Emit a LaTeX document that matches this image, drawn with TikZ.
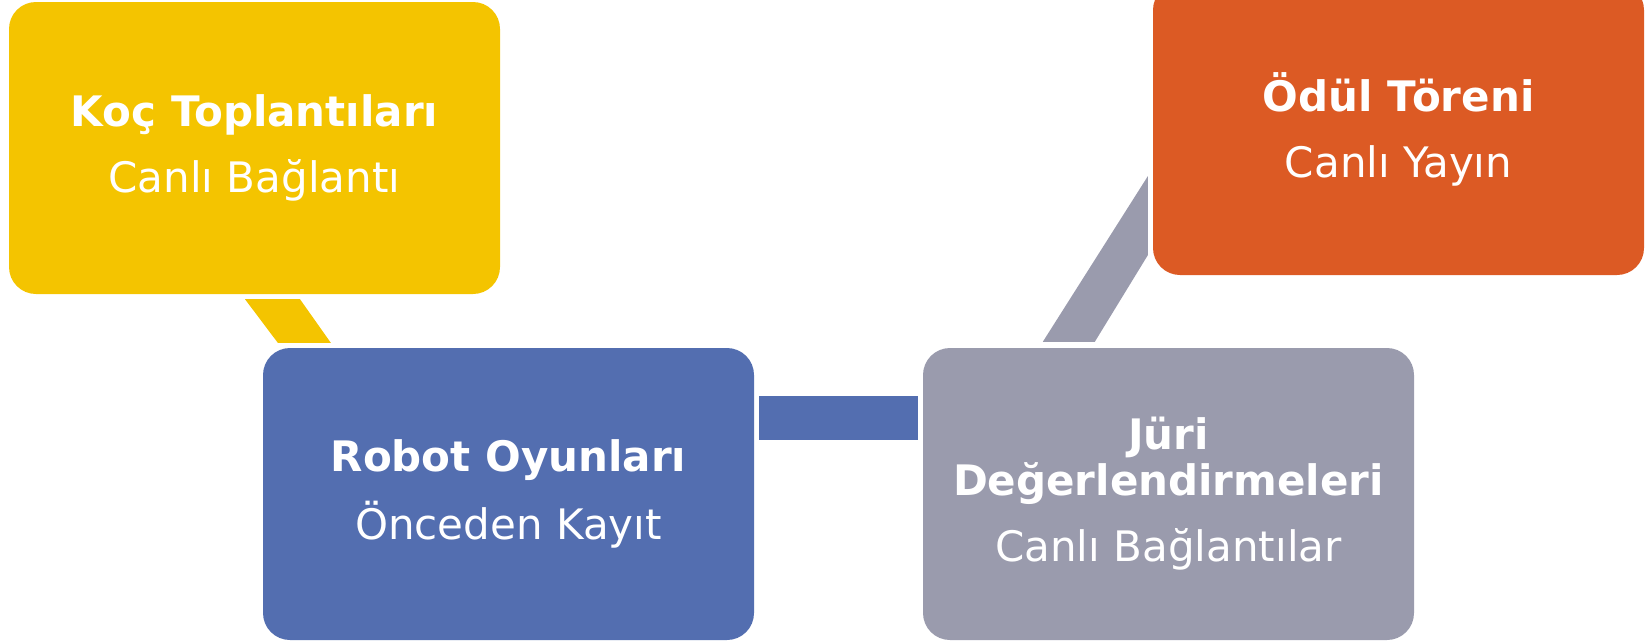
\documentclass[tikz,border=0pt]{standalone}
\usepackage{fontspec}
\setmainfont{DejaVu Sans}
\usetikzlibrary{calc}
\definecolor{cyellow}{HTML}{F4C400}
\definecolor{cblue}{HTML}{536EB0}
\definecolor{cgrey}{HTML}{9A9BAD}
\definecolor{corange}{HTML}{DC5A24}
\begin{document}
\begin{tikzpicture}[x=1pt,y=-1pt,
  box/.style={rectangle, rounded corners=27pt, minimum width=491pt, minimum height=292pt,
    inner sep=0pt, text=white, align=center, font=\fontsize{42}{46}\selectfont},
  link/.style={draw=none}]
\useasboundingbox (0,0) rectangle (1648,640);
% boxes
\node[box, fill=cyellow] (Y) at (254.5,148) {\textbf{Koç Toplantıları}\\[20pt]Canlı Bağlantı};
\node[box, fill=cblue] (B) at (508.5,494) {\textbf{Robot Oyunları}\\[20pt]Önceden Kayıt};
\node[box, fill=cgrey] (G) at (1168.5,494) {\textbf{Jüri}\\\textbf{Değerlendirmeleri}\\[20pt]Canlı Bağlantılar};
\node[box, fill=corange] (O) at (1398.5,129) {\textbf{Ödül Töreni}\\[20pt]Canlı Yayın};
% connectors
\fill[link, cyellow] ($(Y.south)+(-9.5,5)$) -- ($(Y.south)+(45.5,5)$)
  -- ($(B.north west)+(68,-5)$) -- ($(B.north west)+(15,-5)$) -- cycle;
\fill[link, cblue] ($(B.east)+(5,-98)$) rectangle ($(G.west)+(-5,-54)$);
\fill[link, cgrey] ($(G.north west)+(120,-6)$) -- ($(G.north west)+(172,-6)$)
  -- ($(O.south west)+(-5,-20)$) -- ($(O.south west)+(-5,-99)$) -- cycle;
\end{tikzpicture}
\end{document}
